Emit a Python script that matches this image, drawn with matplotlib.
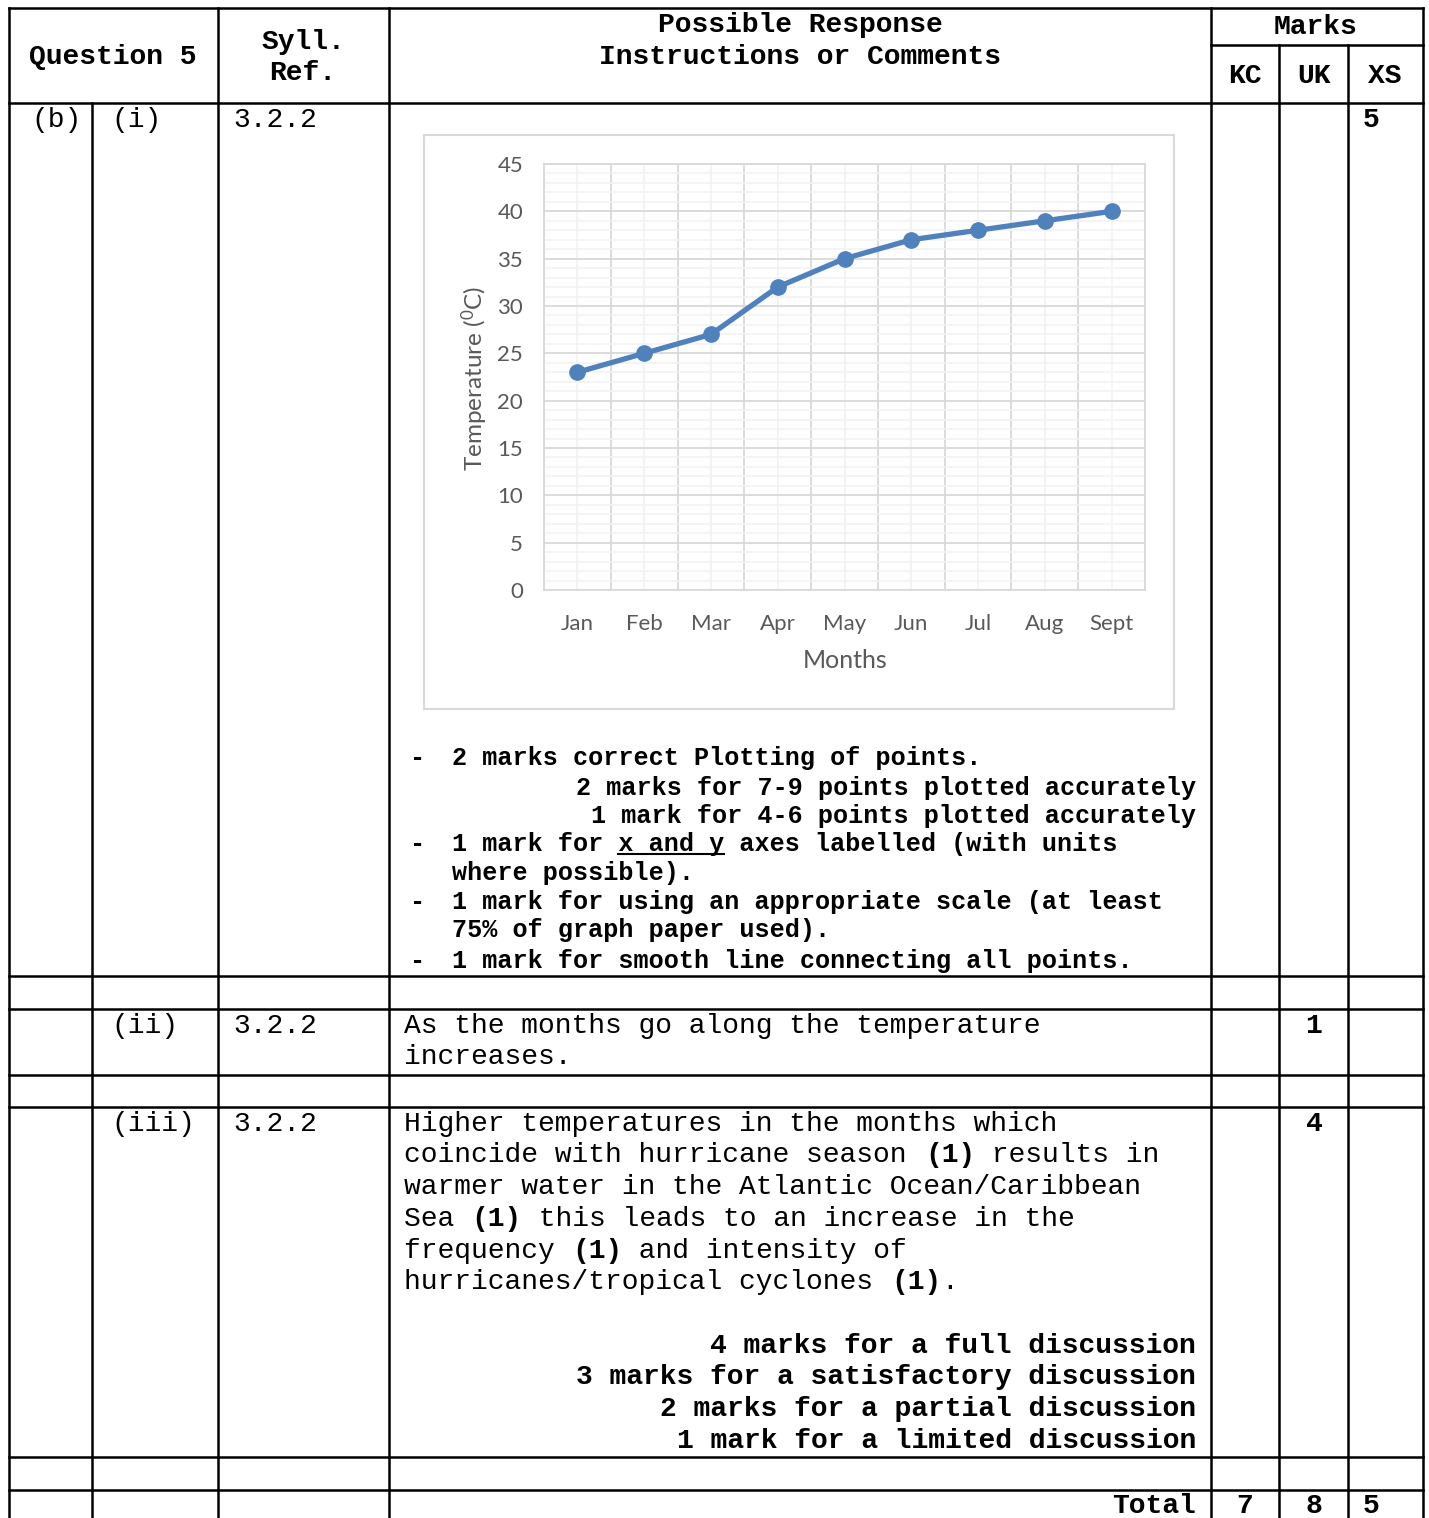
import matplotlib
matplotlib.use("Agg")
import matplotlib.pyplot as plt
from matplotlib.patches import Rectangle
from matplotlib.ticker import MultipleLocator, FixedLocator
import numpy as np

W, H = 1429, 1518
MONO = "Liberation Mono"
CHART_FONT = "Lato"
GREY = "#595959"

# chart data
months = ["Jan", "Feb", "Mar", "Apr", "May", "Jun", "Jul", "Aug", "Sept"]
temps = [23, 25, 27, 32, 35, 37, 38, 39, 40]

# mark scheme text
bullets = [
    ("-", "2 marks correct Plotting of points."),
    ("", "2 marks for 7-9 points plotted accurately"),
    ("", "1 mark for 4-6 points plotted accurately"),
    ("-", "1 mark for x and y axes labelled (with units"),
    ("", "where possible)."),
    ("-", "1 mark for using an appropriate scale (at least"),
    ("", "75% of graph paper used)."),
    ("-", "1 mark for smooth line connecting all points."),
]
answer_ii = ["As the months go along the temperature", "increases."]
answer_iii = [
    [("Higher temperatures in the months which", False)],
    [("coincide with hurricane season ", False), ("(1)", True), (" results in", False)],
    [("warmer water in the Atlantic Ocean/Caribbean", False)],
    [("Sea ", False), ("(1)", True), (" this leads to an increase in the", False)],
    [("frequency ", False), ("(1)", True), (" and intensity of", False)],
    [("hurricanes/tropical cyclones ", False), ("(1)", True), (".", False)],
]
levels_iii = [
    "4 marks for a full discussion",
    "3 marks for a satisfactory discussion",
    "2 marks for a partial discussion",
    "1 mark for a limited discussion",
]
totals = ["7", "8", "5"]

plt.rcParams["font.family"] = CHART_FONT
plt.rcParams["mathtext.fontset"] = "custom"
plt.rcParams["mathtext.rm"] = CHART_FONT

fig = plt.figure(figsize=(W / 100, H / 100), dpi=100)
bg = fig.add_axes([0, 0, 1, 1])
bg.set_xlim(0, W)
bg.set_ylim(H, 0)
bg.axis("off")

BIG = 20.16     # 16.8 px per character
SMALL = 18.12   # 15.1 px per character


def txt(x, y, s, bold=False, size=BIG, ha="left"):
    bg.text(x, y + 8, s, fontfamily=MONO, fontweight="bold" if bold else "normal",
            fontsize=size, ha=ha, va="baseline", color="black")


def seg_line(x, y, segs, size=BIG):
    cw = 0.6 * size * 100 / 72
    n = 0
    for s, b in segs:
        txt(x + n * cw, y, s, bold=b, size=size)
        n += len(s)


def hline(y, x0=9, x1=1423):
    bg.plot([x0, x1], [y, y], color="black", lw=1.8, solid_capstyle="projecting")


def vline(x, y0, y1=H):
    bg.plot([x, x], [y0, y1], color="black", lw=1.8, solid_capstyle="projecting")


# table grid
hline(8)
hline(45, 1211)
for y in [103, 976, 1009, 1075, 1107, 1457, 1490]:
    hline(y)
for x in [9, 218, 389, 1211, 1423]:
    vline(x, 8)
vline(92, 103)
vline(1279, 45)
vline(1348, 45)

# header
txt(113, 56, "Question 5", True, ha="center")
txt(303, 41, "Syll.", True, ha="center")
txt(303, 72, "Ref.", True, ha="center")
txt(800, 24, "Possible Response", True, ha="center")
txt(800, 56, "Instructions or Comments", True, ha="center")
txt(1316, 26, "Marks", True, ha="center")
for x, s in zip([1245, 1314, 1385], ["KC", "UK", "XS"]):
    txt(x, 75, s, True, ha="center")

# row (b)(i)
txt(31, 119, "(b)")
txt(111, 119, "(i)")
txt(233, 119, "3.2.2")
txt(1371, 119, "5", True, ha="center")

bullet_y = [757, 787, 815, 843, 872, 901, 929, 960]
cw_s = 0.6 * SMALL * 100 / 72
for (dash, line), y in zip(bullets, bullet_y):
    if dash:
        txt(410, y, dash, True, SMALL)
    if line.startswith(("2 marks for", "1 mark for 4")):
        txt(1196, y, line, True, SMALL, ha="right")
    else:
        txt(452, y, line, True, SMALL)
    if "x and y" in line:
        i = line.index("x and y")
        bg.plot([452 + i * cw_s, 452 + (i + 7) * cw_s], [y + 11, y + 11], color="black", lw=1.5)

# row (ii)
txt(111, 1025, "(ii)")
txt(233, 1025, "3.2.2")
txt(1314, 1025, "1", True, ha="center")
for line, y in zip(answer_ii, [1025, 1056]):
    txt(404, y, line)

# row (iii)
txt(111, 1123, "(iii)")
txt(233, 1123, "3.2.2")
txt(1314, 1123, "4", True, ha="center")
for segs, y in zip(answer_iii, [1123, 1154, 1186, 1218, 1250, 1281]):
    seg_line(404, y, segs)
for line, y in zip(levels_iii, [1345, 1376, 1408, 1440]):
    txt(1196, y, line, True, ha="right")

# total row
txt(1196, 1505, "Total", True, ha="right")
for x, s in zip([1245, 1314, 1371], totals):
    txt(x, 1505, s, True, ha="center")

# chart frame
bg.add_patch(Rectangle((424, 135), 750, 574, fill=False, ec="#d9d9d9", lw=1.5))

ax = fig.add_axes([544 / W, 1 - 590 / H, 601 / W, 426 / H])
x = np.arange(len(months))
ax.plot(x, temps, color="#4f81bd", lw=3.8, marker="o", ms=11, zorder=3, clip_on=False)
ax.set_xlim(-0.5, len(months) - 0.5)
ax.set_ylim(0, 45)
ax.set_yticks(np.arange(0, 46, 5))
ax.yaxis.set_minor_locator(MultipleLocator(1))
ax.set_xticks(x)
ax.set_xticklabels(months)
ax.xaxis.set_minor_locator(FixedLocator(np.arange(-0.5, len(months), 1)))
ax.set_axisbelow(True)
ax.grid(which="major", axis="x", color="#f2f2f2", lw=1.2)
ax.grid(which="minor", axis="x", color="#d9d9d9", lw=1.3)
ax.grid(which="major", axis="y", color="#d9d9d9", lw=1.3)
ax.grid(which="minor", axis="y", color="#f2f2f2", lw=1.2)
ax.tick_params(which="both", length=0)
ax.tick_params(axis="y", pad=15, labelsize=16, labelcolor=GREY)
ax.tick_params(axis="x", pad=17, labelsize=16, labelcolor=GREY)
for sp in ax.spines.values():
    sp.set_color("#d9d9d9")
    sp.set_linewidth(1.3)

bg.text(475, 378, "Temperature ($\\mathrm{^0}$C)", rotation=90, ha="center", va="center",
        fontsize=17.5, color=GREY)
bg.text(845, 661, "Months", ha="center", va="center", fontsize=18, color=GREY)

fig.savefig("out.png", dpi=100)
